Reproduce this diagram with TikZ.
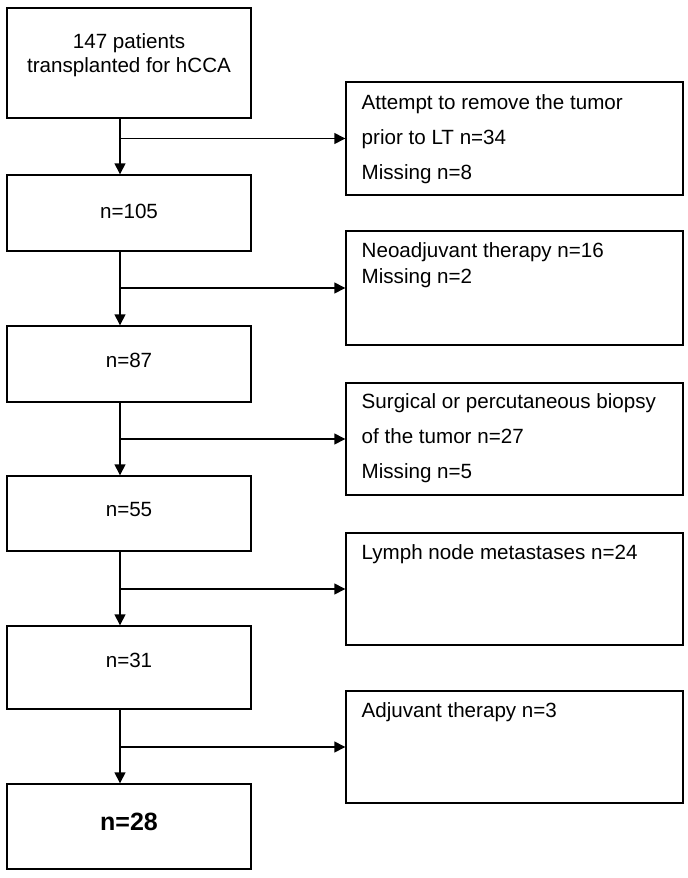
\documentclass[tikz,border=0pt]{standalone}
\usepackage{fontspec}
\setmainfont{Liberation Sans}
\usetikzlibrary{arrows.meta}

\tikzset{
  lbox/.style={draw, line width=0.7pt, minimum width=122pt, inner sep=0pt, align=center,
               font=\fontsize{10.3}{12}\selectfont},
  rbox/.style={draw, line width=0.7pt, minimum width=168.5pt, inner sep=0pt},
  rtext/.style={anchor=north west, align=left, inner sep=0pt,
                font=\fontsize{10.3}{17.5}\selectfont},
  arr/.style={-{Triangle[length=5.5pt,width=5.5pt]}, line width=0.7pt},
}

\begin{document}
\begin{tikzpicture}[x=0.5pt, y=-0.5pt]
            \useasboundingbox (0,0) rectangle (688,878);
            % Left column: patients left at each step
            \node[lbox, minimum height=55pt, text depth=10pt] (n147) at (129, 63.0) {147 patients\\transplanted for hCCA};
            \node[lbox, minimum height=38pt, text depth=2pt]  (n105) at (129,213.0) {n=105};
            \node[lbox, minimum height=38pt, text depth=4pt]  (n87)  at (129,364.0) {n=87};
            \node[lbox, minimum height=37.5pt, text depth=4pt] (n55) at (129,513.5) {n=55};
            \node[lbox, minimum height=41.5pt, text depth=7pt] (n31) at (129,667.5) {n=31};
            \node[lbox, minimum height=42.5pt, text depth=5pt, font=\fontsize{12.5}{15}\selectfont\bfseries]
                                                              (n28)  at (129,826.5) {n=28};
            % Vertical line of the arrows
            \coordinate (spine) at (120,0);
            % Right column: excluded patients
            \node[rbox, minimum height=56.5pt] (ex1) at (514.5,138.5) {};
            \node[rbox, minimum height=57pt]   (ex2) at (514.5,288.0) {};
            \node[rbox, minimum height=56pt]   (ex3) at (514.5,439.0) {};
            \node[rbox, minimum height=56pt]   (ex4) at (514.5,589.0) {};
            \node[rbox, minimum height=56pt]   (ex5) at (514.5,747.0) {};
            \node[rtext] (tx1) at ([xshift=8pt,yshift=-6.5pt]ex1.north west)
                 {Attempt to remove the tumor\\prior to LT n=34\\Missing n=8};
            \node[rtext, font=\fontsize{10.3}{13}\selectfont] (tx2) at ([xshift=8pt,yshift=-6pt]ex2.north west)
                 {Neoadjuvant therapy n=16\\Missing n=2};
            \node[rtext] (tx3) at ([xshift=8pt,yshift=-5.5pt]ex3.north west)
                 {Surgical or percutaneous biopsy\\of the tumor n=27\\Missing n=5};
            \node[rtext] (tx4) at ([xshift=8pt,yshift=-6pt]ex4.north west) {Lymph node metastases n=24};
            \node[rtext] (tx5) at ([xshift=8pt,yshift=-6pt]ex5.north west) {Adjuvant therapy n=3};
            % Arrows down
            \draw[arr] (n147.south -| spine) -- (n105.north -| spine);
            \draw[arr] (n105.south -| spine) -- (n87.north -| spine);
            \draw[arr] (n87.south -| spine)  -- (n55.north -| spine);
            \draw[arr] (n55.south -| spine)  -- (n31.north -| spine);
            \draw[arr] (n31.south -| spine)  -- (n28.north -| spine);
            % Arrows to the side
            \draw[arr] (ex1.west -| spine) -- (ex1.west);
            \draw[arr] (ex2.west -| spine) -- (ex2.west);
            \draw[arr] (ex3.west -| spine) -- (ex3.west);
            \draw[arr] (ex4.west -| spine) -- (ex4.west);
            \draw[arr] (ex5.west -| spine) -- (ex5.west);
\end{tikzpicture}
\end{document}
